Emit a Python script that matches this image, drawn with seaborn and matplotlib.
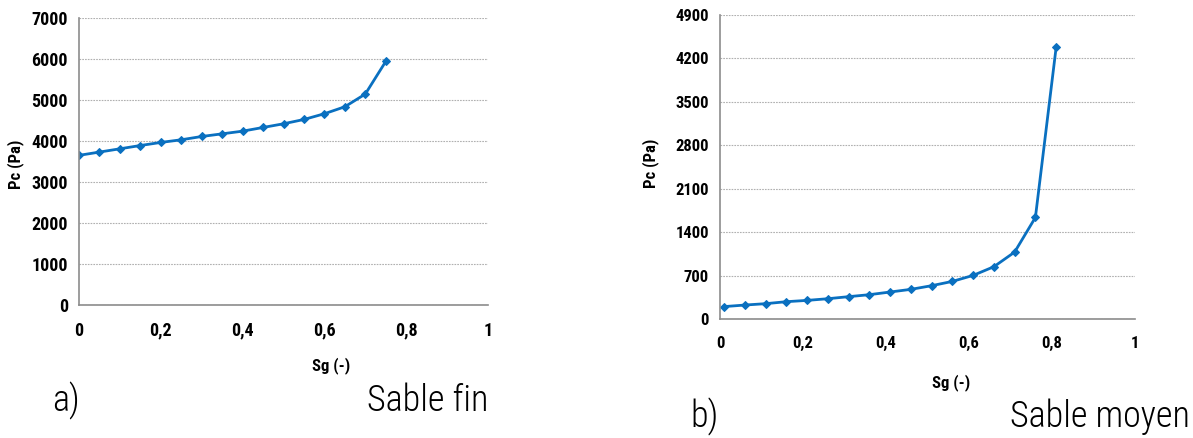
import numpy as np
import pandas as pd
import seaborn as sns
import matplotlib.pyplot as plt
from matplotlib.ticker import FuncFormatter

# Data
sg_fin = [0.0, 0.05, 0.1, 0.15, 0.2, 0.25, 0.3, 0.35, 0.4, 0.45, 0.5, 0.55, 0.6, 0.65, 0.7, 0.75]
pc_fin = [3650, 3730, 3810, 3890, 3965, 4030, 4110, 4175, 4240, 4330, 4420, 4525, 4665, 4835, 5145, 5940]

sg_moyen = [0.01, 0.06, 0.11, 0.16, 0.21, 0.26, 0.31, 0.36, 0.41, 0.46, 0.51, 0.56, 0.61, 0.66, 0.71, 0.76, 0.81]
pc_moyen = [200, 225, 247, 279, 300, 327, 360, 392, 435, 478, 537, 606, 703, 843, 1079, 1637, 4380]

xticks = [0, 0.2, 0.4, 0.6, 0.8, 1]
yticks_fin = [0, 1000, 2000, 3000, 4000, 5000, 6000, 7000]
yticks_moyen = [0, 700, 1400, 2100, 2800, 3500, 4200, 4900]

sns.set_style("white")
fams = ['Roboto Condensed', 'Liberation Sans Narrow', 'Open Sans Condensed',
        'DejaVu Sans Condensed', 'DejaVu Sans']
plt.rcParams['font.family'] = fams
plt.rcParams['font.stretch'] = 'condensed'
plt.rcParams['text.color'] = 'black'
plt.rcParams['xtick.color'] = 'black'
plt.rcParams['ytick.color'] = 'black'

blue = '#0A70C0'
fig = plt.figure(figsize=(11.93, 4.38), dpi=100)
W, H = 1193, 438

def comma(v, pos):
    return f"{v:g}".replace('.', ',')

def panel(rect, x, y, yticks, fs):
    ax = fig.add_axes(rect)
    df = pd.DataFrame({'Sg': x, 'Pc': y})
    sns.lineplot(data=df, x='Sg', y='Pc', ax=ax, color=blue, linewidth=2,
                 marker='D', markersize=4, markeredgecolor=blue)
    ax.set_xlim(0, 1)
    ax.set_ylim(yticks[0], yticks[-1])
    ax.set_xticks(xticks)
    ax.set_yticks(yticks)
    ax.xaxis.set_major_formatter(FuncFormatter(comma))
    ax.yaxis.grid(True, color='#b0b0b0', linestyle=(0, (1.5, 1)), linewidth=0.8)
    ax.xaxis.grid(False)
    for s in ['top', 'right']:
        ax.spines[s].set_visible(False)
    for s in ['left', 'bottom']:
        ax.spines[s].set_color('#8c8c8c')
        ax.spines[s].set_linewidth(1.2)
    ax.tick_params(axis='both', length=0, labelsize=fs)
    ax.tick_params(axis='x', pad=12)
    ax.tick_params(axis='y', pad=8)
    for lab in ax.get_xticklabels() + ax.get_yticklabels():
        lab.set_fontweight('bold')
    ax.set_xlabel('')
    ax.set_ylabel('')
    return ax

ax1 = panel([79 / W, 1 - 305 / H, (488 - 79) / W, (305 - 18) / H], sg_fin, pc_fin, yticks_fin, 13)
ax2 = panel([720 / W, 1 - 319 / H, (1135 - 720) / W, (319 - 15) / H], sg_moyen, pc_moyen, yticks_moyen, 12)

lab = dict(fontsize=12, fontweight='bold', ha='center', va='center')
fig.text(16 / W, 1 - 164 / H, 'Pc (Pa)', rotation=90, **lab)
fig.text(651 / W, 1 - 163 / H, 'Pc (Pa)', rotation=90, **lab)
fig.text(331 / W, 1 - 366 / H, 'Sg (-)', **lab)
fig.text(951 / W, 1 - 383 / H, 'Sg (-)', **lab)

cap = dict(fontsize=26, va='center', fontweight='light')
fig.text(52 / W, 1 - 401 / H, 'a)', ha='left', **cap)
fig.text(428 / W, 1 - 401 / H, 'Sable fin', ha='center', **cap)
fig.text(690 / W, 1 - 417 / H, 'b)', ha='left', **cap)
fig.text(1190 / W, 1 - 417 / H, 'Sable moyen', ha='right', **cap)

fig.savefig('out.png', dpi=100)
